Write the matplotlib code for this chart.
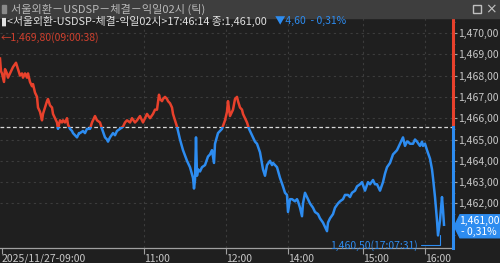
import matplotlib
matplotlib.use("Agg")
import matplotlib.pyplot as plt
from matplotlib.patches import Rectangle, Polygon
import numpy as np

plt.rcParams['font.family'] = ['Noto Sans CJK KR', 'DejaVu Sans']

# tick index (x position of each traded tick) and price
tick_idx = [0, 1, 2, 4, 5, 7, 8, 10, 13, 16, 18, 20, 22, 23, 25, 27, 28, 30, 32, 33,
            35, 37, 38, 40, 42, 43, 45, 47, 48, 50, 52, 53, 55, 57, 58, 60, 62, 63, 65, 67,
            68, 70, 72, 73, 75, 77, 79, 80, 83, 85, 87, 90, 92, 95, 97, 100, 102, 105, 107, 108,
            110, 113, 115, 117, 120, 123, 125, 127, 130, 132, 135, 137, 140, 143, 145, 147, 150, 153, 155, 157,
            159, 160, 162, 163, 165, 167, 168, 170, 172, 173, 175, 177, 180, 183, 187, 190, 193, 194, 195, 196,
            197, 198, 200, 202, 205, 208, 210, 212, 214, 215, 218, 222, 225, 227, 228, 230, 233, 235, 237, 238,
            240, 242, 243, 245, 247, 249, 251, 253, 255, 257, 260, 263, 265, 267, 270, 272, 273, 275, 277, 280,
            283, 285, 287, 288, 290, 292, 295, 297, 298, 300, 302, 303, 305, 308, 310, 313, 315, 318, 320, 323,
            325, 327, 328, 330, 333, 335, 338, 340, 343, 345, 348, 350, 352, 355, 357, 360, 362, 365, 368, 370,
            373, 375, 377, 380, 383, 385, 387, 390, 393, 395, 397, 400, 403, 405, 407, 408, 410, 413, 415, 417,
            420, 422, 423, 425, 427, 430, 432, 433, 435, 437, 438, 440, 442, 443, 444]
price = [1468.8, 1468.2, 1468.1, 1467.7, 1468.3, 1468.1, 1467.9, 1468.1, 1468.4, 1468.6,
         1468.3, 1468.0, 1468.1, 1467.9, 1468.1, 1467.9, 1468.1, 1467.7, 1467.5, 1467.6,
         1467.2, 1467.0, 1466.5, 1466.3, 1465.9, 1466.2, 1466.5, 1466.8, 1466.9, 1466.6,
         1466.5, 1466.2, 1466.0, 1465.8, 1465.5, 1465.9, 1465.8, 1465.9, 1465.8, 1466.0,
         1465.7, 1465.5, 1465.4, 1465.3, 1465.2, 1465.1, 1465.3, 1465.3, 1465.4, 1465.3,
         1465.5, 1465.5, 1465.8, 1466.1, 1465.9, 1465.8, 1465.5, 1465.1, 1465.0, 1464.9,
         1465.1, 1465.3, 1465.2, 1465.4, 1465.5, 1465.6, 1465.8, 1465.9, 1465.8, 1466.0,
         1465.8, 1465.9, 1466.1, 1465.8, 1466.0, 1466.2, 1466.0, 1466.2, 1466.4, 1466.4,
         1467.1, 1466.9, 1466.8, 1466.9, 1467.0, 1466.9, 1466.8, 1466.7, 1466.5, 1466.2,
         1465.9, 1465.6, 1465.0, 1464.5, 1464.0, 1463.7, 1463.2, 1462.7, 1463.1, 1465.1,
         1463.3, 1463.6, 1463.5, 1463.7, 1463.8, 1464.2, 1464.3, 1464.5, 1463.9, 1464.8,
         1465.3, 1465.5, 1465.9, 1466.3, 1466.8, 1466.1, 1466.4, 1466.9, 1467.0, 1466.8,
         1466.5, 1466.4, 1466.2, 1466.0, 1465.8, 1465.5, 1465.3, 1465.1, 1464.9, 1464.8,
         1464.4, 1463.6, 1463.3, 1463.8, 1464.0, 1463.8, 1463.9, 1463.8, 1463.7, 1463.2,
         1462.8, 1462.5, 1462.4, 1461.6, 1462.2, 1462.2, 1462.1, 1462.2, 1462.1, 1461.8,
         1461.4, 1462.0, 1462.5, 1462.2, 1462.0, 1461.8, 1461.6, 1461.5, 1461.3, 1461.1,
         1460.9, 1460.7, 1461.1, 1461.3, 1461.5, 1461.8, 1462.0, 1462.1, 1462.2, 1462.4,
         1462.4, 1462.3, 1462.5, 1462.6, 1462.8, 1462.9, 1463.0, 1462.6, 1463.0, 1462.9,
         1463.1, 1462.9, 1462.9, 1462.6, 1463.0, 1463.4, 1463.7, 1463.9, 1464.3, 1464.4,
         1464.5, 1464.8, 1465.1, 1464.7, 1464.9, 1464.9, 1464.8, 1464.8, 1465.0, 1464.9,
         1464.7, 1464.9, 1464.7, 1464.8, 1464.5, 1464.1, 1463.6, 1463.2, 1462.3, 1461.2,
         1460.5, 1461.2, 1462.3, 1461.7, 1461.0]

prev_close = 1465.60
high_price = 1469.80
high_time = "09:00:38"
low_time = "17:07:31"
last_time = "17:46:14"

time_pos = [2, 144, 226, 288, 363, 425]
time_labels = ["2025/11/27-09:00", "11:00", "12:00", "14:00", "15:00", "16:00"]
price_ticks = [1462, 1463, 1464, 1465, 1466, 1467, 1468, 1469, 1470]

RED = '#e8412c'
BLUE = '#2d8cf0'
BG = '#1f1f1f'
GRID = '#3c3c3c'
TXT = '#c8c8c8'


def fmt(v):
    return f"{v:,.2f}".replace('.', ',')


def px(x, y):
    return (x / 500, 1 - y / 263)


W, H = 500, 263
fig = plt.figure(figsize=(W / 100, H / 100), dpi=100, facecolor=BG)
ax = fig.add_axes([0, (H - 248) / H, 453 / W, 230 / H])
ax.set_facecolor(BG)
ax.set_xlim(0, 453)
ax.set_ylim(1459.91, 1470.70)

# grid
for p in price_ticks:
    ax.axhline(p, color=GRID, lw=0.8, ls=(0, (2, 3)), zorder=1)
for t in time_pos[1:]:
    ax.axvline(t, color=GRID, lw=0.8, ls=(0, (2, 3)), zorder=1)

# prev close line
ax.axhline(prev_close, color='#d8d8d8', lw=0.9, ls=(0, (3, 2)), zorder=2)

# price line, red above prev close, blue below
up, = ax.plot(tick_idx, price, color=RED, lw=1.8, zorder=3)
dn, = ax.plot(tick_idx, price, color=BLUE, lw=1.8, zorder=3)
r_up = Rectangle((0, prev_close), 460, 20, transform=ax.transData)
r_dn = Rectangle((0, prev_close - 20), 460, 20, transform=ax.transData)
up.set_clip_path(r_up)
dn.set_clip_path(r_dn)

# right axis line
ax.plot([453, 453], [prev_close, 1470.70], color=RED, lw=2.2, clip_on=False, zorder=4)
ax.plot([453, 453], [1459.91, prev_close], color=BLUE, lw=2.2, clip_on=False, zorder=4)

ax.yaxis.tick_right()
ax.set_yticks(price_ticks)
ax.set_yticklabels([fmt(p) for p in price_ticks])
ax.set_yticks(np.arange(1460.5, 1470.6, 0.5), minor=True)
ax.tick_params(axis='y', which='major', colors='#a0a0a0', labelcolor=TXT, length=3,
               width=0.8, pad=1, labelsize=7.5)
ax.tick_params(axis='y', which='minor', colors='#707070', length=1.5, width=0.6)

ax.set_xticks(time_pos)
ax.set_xticklabels(time_labels)
for lab in ax.get_xticklabels():
    lab.set_ha('left')
ax.tick_params(axis='x', colors='#a0a0a0', labelcolor=TXT, length=4, width=0.8,
               pad=0, labelsize=7.5)

for s in ['top', 'left', 'right']:
    ax.spines[s].set_visible(False)
ax.spines['bottom'].set_color('#a0a0a0')
ax.spines['bottom'].set_linewidth(0.9)

# high / low markers
ax.text(1, high_price, "←" + fmt(high_price) + "(" + high_time + ")", color='#d0402e',
        fontsize=7.5, va='center', ha='left', zorder=5)
low_i = int(np.argmin(price))
lx, ly = tick_idx[low_i], price[low_i]
ax.annotate(fmt(ly) + "(" + low_time + ")", xy=(lx + 2, ly), xytext=(-16, -7),
            textcoords='offset points', color=BLUE, fontsize=7.5, ha='right', va='center',
            arrowprops=dict(arrowstyle='-', color=BLUE, lw=0.8,
                            connectionstyle='angle,angleA=0,angleB=90,rad=0',
                            shrinkA=0, shrinkB=0), annotation_clip=False)

# title bar
fig.patches.append(Rectangle(px(0, 18), 1, 18 / H, transform=fig.transFigure,
                             color='#3e3e3e', zorder=0))
fig.patches.append(Rectangle(px(2, 13), 4 / W, 8 / H, transform=fig.transFigure,
                             color='#8a8a8a', zorder=1))
fig.text(*px(11, 9), "서울외환－USDSP－체결－익일02시 (틱)", color='#b8b8b8',
         fontsize=8, va='center', ha='left')
fig.patches.append(Rectangle(px(473, 13), 8 / W, 8 / H, transform=fig.transFigure,
                             fill=False, ec='#c0c0c0', lw=1, zorder=1))
fig.text(*px(491, 9), "×", color='#c0c0c0', fontsize=10, va='center', ha='center',
         family='DejaVu Sans')

# header line
last = price[-1]
chg = last - prev_close
fig.text(*px(1, 21), "▮<서울외환-USDSP-체결-익일02시>" + last_time + " 종:" + fmt(last),
         color='#e0e0e0', fontsize=7.8, va='center', ha='left')
fig.text(*px(275, 21), "▼" + f"{abs(chg):.2f}".replace('.', ',') + "  - "
         + f"{abs(chg) / prev_close * 100:.2f}".replace('.', ',') + "%",
         color=BLUE, fontsize=7.5, va='center', ha='left')

# last price box on right axis
ybox = ax.transData.transform((0, last))[1]
yb = H - ybox
box = Polygon([px(455, yb), px(460, yb - 10), px(500, yb - 10), px(500, yb + 13),
               px(460, yb + 13), px(455, yb + 3)], closed=True, transform=fig.transFigure,
              color=BLUE, zorder=5)
fig.patches.append(box)
fig.text(*px(479, yb - 4), fmt(last), color='white', fontsize=7.5, ha='center', va='center',
         zorder=6)
fig.text(*px(479, yb + 7), "- " + f"{abs(chg) / prev_close * 100:.2f}".replace('.', ',') + "%",
         color='white', fontsize=7.5, ha='center', va='center', zorder=6)

fig.savefig("out.png", dpi=100, facecolor=BG)
